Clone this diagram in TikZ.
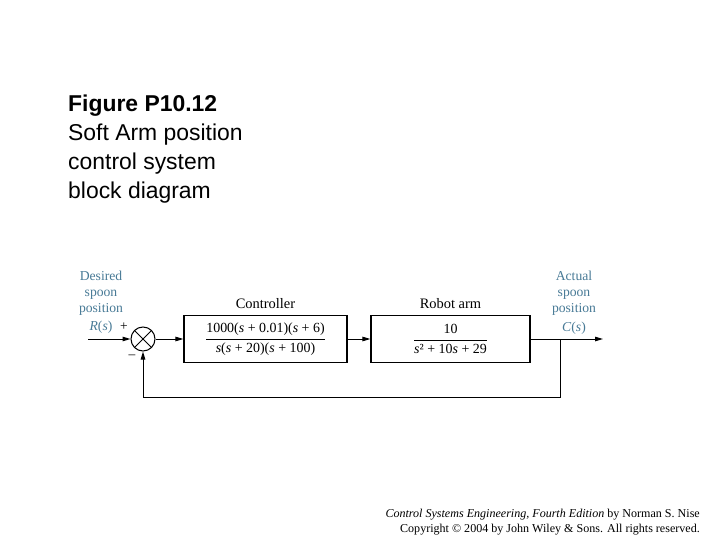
\documentclass[tikz,border=0pt]{standalone}
\usepackage{fontspec}
\setmainfont{Liberation Serif}
\newfontfamily\headfont{Liberation Sans}
\usetikzlibrary{arrows.meta,positioning}
\definecolor{labblue}{RGB}{72,122,150}

\begin{document}
\begin{tikzpicture}[x=1bp, y=-1bp,
  font=\fontsize{14.5}{15}\selectfont,
  blk/.style={draw, line width=1.2bp, minimum height=47bp, inner sep=0pt},
  sig/.style={-{Triangle[length=8bp,width=4.5bp]}, line width=1bp},
  wire/.style={line width=1bp},
  lab/.style={align=center, text=labblue, inner sep=0pt, font=\fontsize{13.7}{16}\selectfont},
  sgn/.style={inner sep=0pt, font=\fontsize{13.5}{15}\selectfont}]
\useasboundingbox (0,0) rectangle (720,540);
\node[anchor=north west, align=left, inner sep=0pt, font=\headfont\fontsize{23}{29}\selectfont] (title) at (68,95) {\textbf{Figure P10.12}\\Soft Arm position\\control system\\block diagram};
% loop
\node[draw, circle, line width=1bp, minimum size=24bp, inner sep=0pt] (sum) at (143,339) {};
\draw[wire] (sum.45) -- (sum.225) (sum.135) -- (sum.315);
\node[blk, minimum width=163bp, font=\fontsize{14}{15}\selectfont] (ctrl) at (265.5,339) {$\displaystyle\frac{\mbox{1000(\textit{s} + 0.01)(\textit{s} + 6)}}{\mbox{\textit{s}(\textit{s} + 20)(\textit{s} + 100)}}$};
\node[blk, minimum width=159bp, font=\fontsize{14}{15}\selectfont] (arm) at (450.5,339) {$\displaystyle\frac{\mbox{10}}{\mbox{\textit{s}² + 10\textit{s} + 29}}$};
\node[above=6bp of ctrl, inner sep=0pt] (ctrllab) {Controller};
\node[above=6bp of arm, inner sep=0pt] (armlab) {Robot arm};
\coordinate (in) at (88,339);
\coordinate (out) at (603,339);
\coordinate (tap) at (560,339);
\draw[sig] (in) -- (sum.west);
\draw[sig] (sum.east) -- (ctrl.west);
\draw[sig] (ctrl.east) -- (arm.west);
\draw[sig] (arm.east) -- (out);
\draw[sig] (tap) -- ++(0,58) -| (sum.south);
% signal labels
\node[lab] (desired) at (101,293) {Desired\\spoon\\position};
\node[lab, anchor=base] (rlab) at (101,330) {\textit{R}(\textit{s})};
\node[sgn, anchor=base] (plus) at (124,330) {+};
\node[sgn, anchor=base] (minus) at (132,358) {\textendash};
\node[lab] (actual) at (574,293) {Actual\\spoon\\position};
\node[lab, anchor=base] (clab) at (574,331) {\textit{C}(\textit{s})};
% credit line
\node[anchor=south east, align=right, inner sep=0pt, font=\fontsize{12.1}{15}\selectfont] (credit) at (700,535) {\textit{Control Systems Engineering, Fourth Edition} by Norman S. Nise\\Copyright © 2004 by John Wiley \& Sons. All rights reserved.};
\end{tikzpicture}
\end{document}
